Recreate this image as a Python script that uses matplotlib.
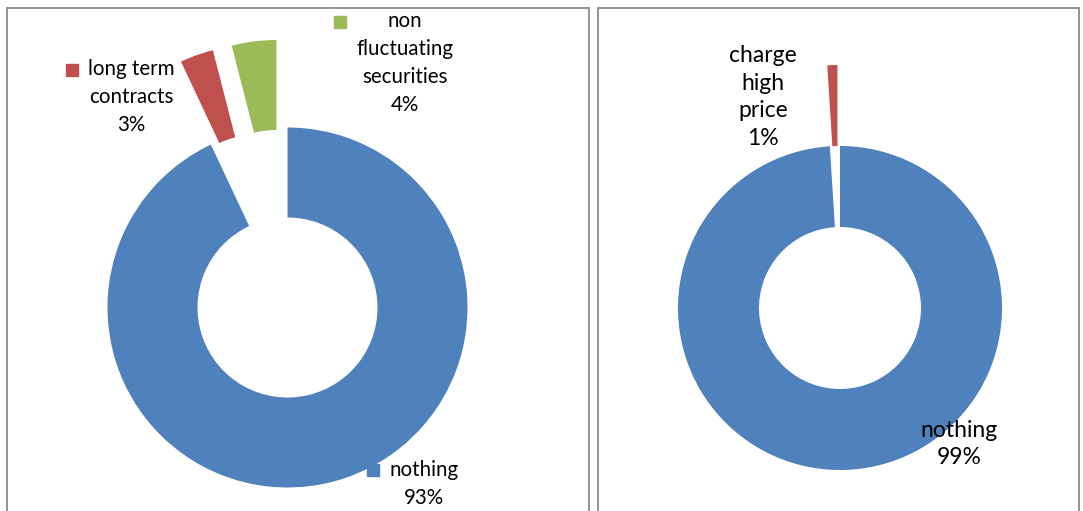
import matplotlib
matplotlib.use("Agg")
import matplotlib.pyplot as plt
from matplotlib.patches import Rectangle

plt.rcParams['font.family'] = ['Lato', 'DejaVu Sans']

# left chart
left_labels = ["nothing", "long term\ncontracts", "non\nfluctuating\nsecurities"]
left_values = [93, 3, 4]
# right chart
right_labels = ["nothing", "charge\nhigh\nprice"]
right_values = [99, 1]

blue, red, green = "#4F81BD", "#C0504D", "#9BBB59"
W, H = 1083, 511

fig = plt.figure(figsize=(W / 100, H / 100), dpi=100)
ax = fig.add_axes([0, 0, 1, 1])
ax.set_xlim(0, W)
ax.set_ylim(0, H)
ax.set_aspect("equal")
ax.axis("off")

# panel frames (bottom runs off the picture)
for x0, x1 in [(7, 589), (598, 1079)]:
    ax.add_patch(Rectangle((x0, -20), x1 - x0, H - 7.5 + 20, fill=False,
                           edgecolor="#8a8a8a", linewidth=1.3))


def donut(values, colors, cx, cy, r, explode):
    ax.pie(values, colors=colors, startangle=90, counterclock=False,
           center=(cx, H - cy), radius=r, explode=[e * r for e in explode],
           wedgeprops=dict(width=r * 0.5, linewidth=0))


donut(left_values, [blue, red, green], 287.5, 307.5, 180, [0, 0.49, 0.49])
donut(right_values, [blue, red], 840, 308, 162, [0, 0.5])
ax.set_xlim(0, W)
ax.set_ylim(0, H)

def label(text, value, x, y, size, spacing, key=None, kx=None, ky=None):
    ax.text(x, H - y, f"{text}\n{value}%", ha="center", va="center",
            fontsize=size, linespacing=spacing, color="black")
    if key is not None:
        ax.plot([kx], [H - ky], marker="s", markersize=8, color=key,
                linestyle="none")


label(left_labels[0], left_values[0], 424, 484.5, 14.8, 1.5, blue, 373, 470)
label(left_labels[1], left_values[1], 131, 97, 14.8, 1.5, red, 72, 70)
label(left_labels[2], left_values[2], 405, 63, 14.8, 1.5, green, 340, 22)
label(right_labels[0], right_values[0], 959, 444, 16.5, 1.4)
label(right_labels[1], right_values[1], 763, 97, 16.5, 1.4)

fig.savefig("out.png", dpi=100)
